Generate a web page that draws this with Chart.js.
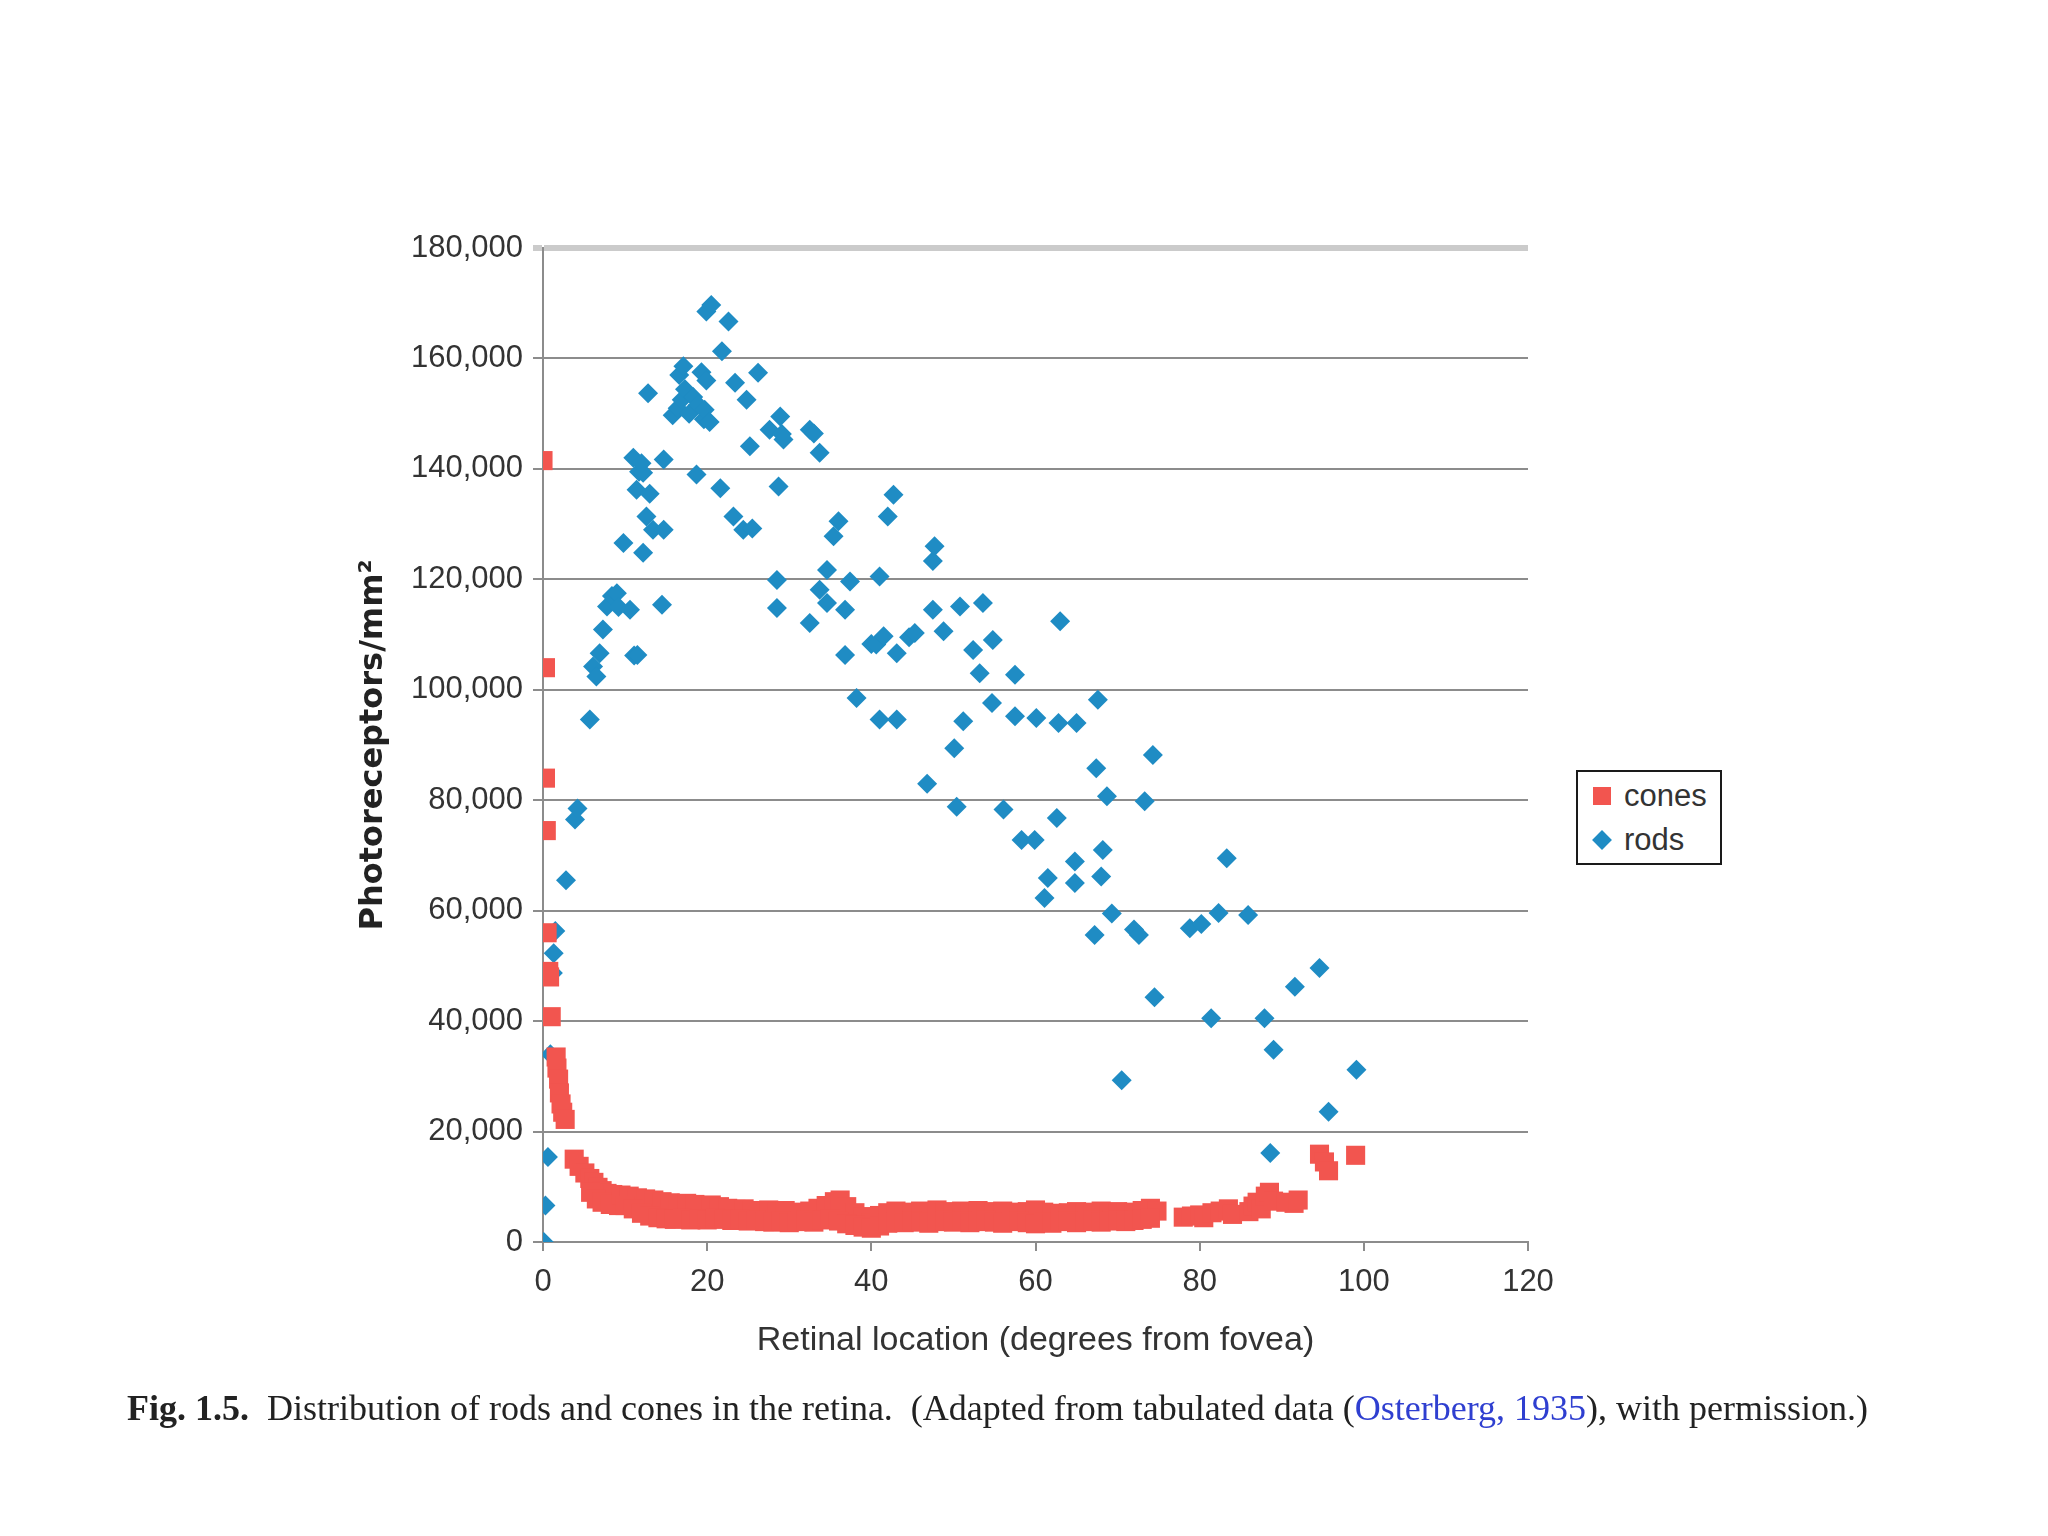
<!DOCTYPE html>
<html>
<head>
<meta charset="utf-8">
<title>Distribution of rods and cones in the retina</title>
<script src="https://cdn.jsdelivr.net/npm/chart.js@4.4.1/dist/chart.umd.min.js"></script>
<style>
  html, body { margin: 0; padding: 0; background: #fff; }
  #wrap { position: relative; width: 2048px; height: 1536px; overflow: hidden; }
  #chart { position: absolute; left: 0; top: 0; }
  #legend {
    position: absolute; left: 1576px; top: 770px; width: 146px; height: 95px;
    box-sizing: border-box; border: 2px solid #1a1a1a; background: #fff;
    font-family: 'Liberation Sans', Arial, sans-serif;
    font-size: 31px; color: #333;
  }
  #legend .item { position: absolute; left: 0; height: 40px; line-height: 40px; white-space: nowrap; }
  #legend .mark { position: absolute; left: 15px; top: 11px; width: 18px; height: 18px; }
  #legend .mark.rot { transform: rotate(45deg) scale(0.78); }
  #legend .text { position: absolute; left: 46px; top: 0; }
  #caption {
    position: absolute; left: 127px; top: 1387px; white-space: nowrap;
    font-family: 'Liberation Serif', 'Times New Roman', serif; font-size: 36px; color: #222;
  }
  #caption b { font-weight: bold; }
  #caption .ref { color: #2f3fd0; }
</style>
</head>
<body>
<div id="wrap">
  <canvas id="chart" width="2048" height="1536"></canvas>
  <div id="legend"></div>
  <div id="caption"><b>Fig. 1.5.</b>&nbsp; Distribution of rods and cones in the retina.&nbsp; (Adapted from tabulated data (<span class="ref">Osterberg, 1935</span>), with permission.)</div>
</div>
<script>
// cones, degrees from fovea / photoreceptors per mm2
const conesDeg = [0, 0.3, 0.3, 0.4, 0.5, 0.7, 0.8, 1.0, 1.6, 1.7, 1.9, 2.0, 2.2, 2.4, 2.7,
  3.8, 4.4, 5.1, 5.7, 6.2, 6.7, 7.2, 7.8, 8.5, 5.8, 6.5, 7.2, 8.2, 9.2,
  9.5, 10.5, 11.5, 12.5, 13.5, 14.5, 15.5, 16.5, 17.5, 18.5, 19.5, 20.5, 21.5, 22.5, 23.5, 24.5,
  25.5, 26.5, 27.5, 28.5, 29.5, 30.5, 31.5, 32.5, 33.5, 34.5, 35.5, 36.2, 37, 38, 39, 40,
  41, 42, 43, 44, 45, 46, 47, 48, 49, 50, 51, 52, 53, 54, 55, 56, 57, 58, 59, 60,
  61, 62, 63, 64, 65, 66, 67, 68, 69, 70, 71, 72, 73, 74, 74.8,
  10, 11, 12, 13, 14, 15, 16, 17, 18, 19, 20, 21, 22, 23, 24, 25, 26, 27, 28, 29, 30,
  31, 32, 33, 34, 35, 36, 37, 38, 39, 40, 41, 42, 43, 44, 45, 46, 47, 48, 49, 50,
  51, 52, 53, 54, 55, 56, 57, 58, 59, 60, 61, 62, 63, 64, 65, 66, 67, 68, 69, 70,
  71, 72, 73, 74,
  78, 79, 80, 80.5, 81.5, 82.5, 83.5, 84, 86, 86.5, 87, 87.5, 88, 88.5, 89, 90.5, 91.5, 92,
  94.6, 95.2, 95.7, 99];
const conesDensity = [141500, 104000, 84000, 74500, 56000, 49000, 48000, 40800, 33500, 31500, 29500, 27000, 25000, 23500, 22200,
  15000, 13700, 12500, 11500, 10800, 9900, 9300, 8800, 8600, 9000, 7800, 7200, 6800, 6600,
  8500, 8300, 8000, 7800, 7600, 7300, 7100, 6900, 7000, 6800, 6600, 6700, 6400, 6100, 5900, 6000,
  5700, 5600, 5800, 5500, 5700, 5400, 5300, 5600, 6100, 6600, 7300, 7600, 6400, 5300, 4600, 3500,
  4800, 5300, 5600, 5400, 5200, 5600, 5500, 5800, 5500, 5300, 5600, 5400, 5700, 5500, 5300, 5600, 5400, 5200, 5500, 5800,
  5400, 5200, 5000, 5300, 5500, 5200, 5400, 5600, 5300, 5500, 5200, 5400, 5700, 6100, 5600,
  6600, 6000, 5200, 4700, 4400, 4200, 4100, 4300, 4000, 4200, 4000, 4300, 4100, 3900, 4100, 3800, 3900, 3700, 3600, 3800, 3500,
  3700, 3900, 3600, 4000, 4200, 3800, 3300, 3000, 2700, 2500, 2900, 3400, 3700, 3500, 3800, 3600, 3400, 3700, 3900, 3600,
  3800, 3500, 3700, 3900, 3600, 3400, 3700, 3800, 3500, 3300, 3600, 3400, 3700, 3800, 3500, 3700, 3900, 3600, 3800, 4000,
  3700, 3900, 4100, 4300,
  4500, 4700, 4900, 4400, 5300, 5600, 6000, 5000, 5500, 6500, 7200, 6000, 8300, 9000, 7400, 7200, 7000, 7600,
  15900, 14500, 12900, 15700];

// rods
const rodsDeg = [0.1, 0.3, 0.6, 0.9, 1.2, 1.3, 1.5, 2.8, 3.9, 4.2, 5.7, 6.1, 6.5, 6.9, 7.3, 7.8, 8.4, 9.0, 9.2, 9.8,
  10.6, 11.1, 11.5, 11.0, 11.4, 11.7, 12.2, 12.0, 12.2, 12.6, 12.8, 13.4, 13.0, 14.5, 14.7, 14.7, 15.8, 16.4, 16.6, 16.9,
  17.1, 17.3, 17.8, 18.3, 18.7, 18.9, 19.3, 19.6, 19.7, 19.9, 19.9, 20.5, 20.3, 21.6, 21.8, 22.6, 23.2, 23.4, 24.4, 24.8,
  25.2, 25.5, 26.2, 27.6, 28.5, 28.5, 28.7, 28.9, 29.1, 29.3, 32.5, 32.5, 33.0, 33.7, 33.7, 34.6, 34.6, 35.4, 36.0, 37.4,
  36.8, 36.8, 38.2, 40.0, 40.6, 41.0, 41.0, 41.5, 42.0, 42.7, 43.1, 43.1, 44.6, 45.3, 46.8, 47.5, 47.5, 47.7, 48.8, 50.1,
  50.4, 50.8, 51.2, 52.4, 53.2, 53.6, 54.7, 54.8, 56.1, 57.5, 57.5, 58.3, 59.9, 60.1, 61.1, 61.5, 62.6, 63.0, 62.8, 65.0,
  64.8, 64.8, 67.2, 67.4, 67.6, 68.0, 68.2, 68.7, 69.3, 70.5, 72.0, 72.6, 73.3, 74.3, 74.5, 78.8, 80.2, 82.3, 81.4, 83.3,
  85.9, 87.9, 88.6, 89.0, 91.6, 94.6, 95.7, 99.1];
const rodsDensity = [0, 6600, 15400, 34000, 48700, 52300, 56300, 65500, 76500, 78500, 94600, 104200, 102400, 106600, 110900, 115100, 117000, 117500, 115000, 126600,
  114500, 106200, 106300, 142000, 136200, 139500, 139300, 141000, 124800, 131400, 153700, 129000, 135500, 115400, 129000, 141700, 149700, 151000, 157000, 152500,
  158600, 154400, 150000, 153000, 139000, 151600, 157500, 149000, 150700, 156000, 168500, 169700, 148500, 136500, 161300, 166700, 131400, 155600, 129000, 152500,
  144100, 129200, 157400, 147100, 114800, 119900, 136800, 149500, 146300, 145300, 147100, 112100, 146400, 142900, 118100, 121700, 115700, 127800, 130500, 119600,
  114500, 106300, 98500, 108300, 108200, 120500, 94600, 109700, 131400, 135300, 106600, 94600, 109500, 110300, 83000, 114500, 123300, 126000, 110600, 89400,
  78800, 115100, 94300, 107200, 103000, 115700, 97600, 109000, 78300, 102700, 95200, 72800, 72800, 94900, 62300, 65900, 76800, 112400, 94000, 94000,
  68900, 65000, 55600, 85800, 98200, 66200, 71000, 80700, 59500, 29300, 56600, 55600, 79800, 88200, 44300, 56800, 57600, 59600, 40500, 69500,
  59200, 40500, 16100, 34800, 46200, 49600, 23600, 31200];

const xTicks = [0, 20, 40, 60, 80, 100, 120];
const yTicks = [0, 20000, 40000, 60000, 80000, 100000, 120000, 140000, 160000, 180000];

const CONE_RED = '#f2554f';
const ROD_BLUE = '#1f8cc4';
const GRID = '#8c8c8c';
const TEXT = '#333333';
const SANS = "'Liberation Sans', Arial, sans-serif";

function points(xs, ys) {
  return xs.map((x, i) => ({ x: x, y: ys[i] }));
}

const chart = new Chart(document.getElementById('chart'), {
  type: 'scatter',
  data: {
    datasets: [{
      label: 'cones',
      data: points(conesDeg, conesDensity),
      pointStyle: 'rect',
      pointRadius: 13.5,
      pointHoverRadius: 13.5,
      backgroundColor: CONE_RED,
      borderColor: CONE_RED,
      borderWidth: 0
    }, {
      label: 'rods',
      data: points(rodsDeg, rodsDensity),
      pointStyle: 'rectRot',
      pointRadius: 10,
      pointHoverRadius: 10,
      backgroundColor: ROD_BLUE,
      borderColor: ROD_BLUE,
      borderWidth: 0
    }]
  },
  options: {
    responsive: false,
    devicePixelRatio: 1,
    animation: false,
    layout: { padding: { left: 300, right: 520, top: 248, bottom: 146 } },
    plugins: {
      legend: { display: false },
      tooltip: { enabled: false }
    },
    scales: {
      x: {
        type: 'linear',
        min: 0,
        max: 120,
        afterBuildTicks: s => { s.ticks = xTicks.map(v => ({ value: v })); },
        afterFit: s => { s.height = 148; },
        grid: { drawOnChartArea: false, drawTicks: true, tickLength: 9, color: GRID, lineWidth: 2 },
        border: { color: GRID, width: 2 },
        ticks: { font: { family: SANS, size: 31 }, color: TEXT, padding: 13, maxRotation: 0 },
        title: {
          display: true,
          text: 'Retinal location (degrees from fovea)',
          font: { family: SANS, size: 34 },
          color: TEXT,
          padding: { top: 0, bottom: 29 }
        }
      },
      y: {
        type: 'linear',
        min: 0,
        max: 180000,
        afterBuildTicks: s => { s.ticks = yTicks.map(v => ({ value: v })); },
        afterFit: s => { s.width = 243; },
        grid: {
          color: c => (c.tick && c.tick.value === 180000) ? '#cbcbcb' : GRID,
          lineWidth: c => (c.tick && c.tick.value === 180000) ? 6 : 2,
          tickLength: 10
        },
        border: { color: GRID, width: 2 },
        ticks: {
          font: { family: SANS, size: 31 },
          color: TEXT,
          padding: 10,
          callback: v => v.toLocaleString('en-US')
        },
        title: {
          display: true,
          text: 'Photoreceptors/mm²',
          font: { family: "'DejaVu Sans', sans-serif", size: 32, weight: 'bold' },
          color: '#222',
          padding: { top: 54, bottom: 0 }
        }
      }
    }
  }
});

// html legend built from the datasets
const legend = document.getElementById('legend');
chart.data.datasets.forEach((ds, i) => {
  const item = document.createElement('div');
  item.className = 'item';
  item.style.top = (4 + i * 44) + 'px';
  const mark = document.createElement('span');
  mark.className = 'mark' + (ds.pointStyle === 'rectRot' ? ' rot' : '');
  mark.style.background = ds.backgroundColor;
  const text = document.createElement('span');
  text.className = 'text';
  text.textContent = ds.label;
  item.appendChild(mark);
  item.appendChild(text);
  legend.appendChild(item);
});
</script>
</body>
</html>
